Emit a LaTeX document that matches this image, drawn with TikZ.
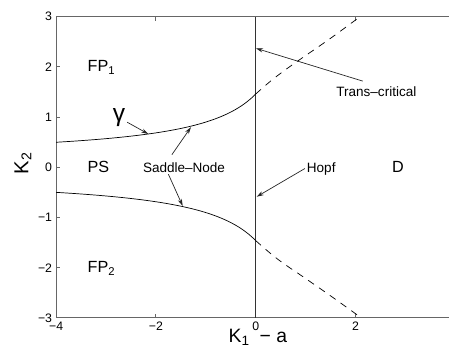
\documentclass[tikz,border=0pt]{standalone}
\usepackage{fontspec}
\setmainfont{Liberation Sans}
\usetikzlibrary{arrows.meta}
\tikzset{
  axisline/.style={draw=black!60, line width=0.5pt},
  branch/.style={draw=black, line width=0.4pt},
  tcbranch/.style={draw=black, line width=0.4pt, dash pattern=on 4pt off 3.5pt},
  regionlabel/.style={inner sep=0pt, font=\fontsize{9.2}{11}\selectfont},
  notelabel/.style={inner sep=1pt, font=\fontsize{7.7}{9}\selectfont},
  ticklabel/.style={inner sep=0pt, font=\fontsize{7}{8}\selectfont},
  pointer/.style={-{Stealth[length=4pt, width=2.4pt]}, line width=0.4pt, draw=black!85}
}

\begin{document}
\begin{tikzpicture}[x=0.998cm, y=1.004cm,
  declare function={snk(\t)=0.5*(0.252+1.111/(0.92-0.9*\t))+0.5*(0.123+1.337/(1-0.636*\t));}]
  \useasboundingbox (-5.124,-3.62) rectangle (3.874,3.333);

  % axes box and ticks
  \draw[axisline] (3.874,3) -- (-4,3) -- (-4,-3) -- (3.874,-3);
  \foreach \x/\lab in {-4/−4, -2/−2, 0/0, 2/2} {
    \draw[axisline] (\x,-3) -- ++(0,0.08);
    \draw[axisline] (\x,3) -- ++(0,-0.08);
    \node[ticklabel, anchor=north] (xt\x) at (\x,-3.08) {\lab};
  }
  \foreach \y/\lab in {-3/−3, -2/−2, -1/−1, 0/0, 1/1, 2/2, 3/3} {
    \draw[axisline] (-4,\y) -- ++(0.08,0);
    \node[ticklabel, anchor=east] (yt\y) at (-4.074,\y) {\lab};
  }
  \node[anchor=base west, inner sep=0pt, font=\fontsize{11}{13}\selectfont] (xlab) at (-0.549,-3.49) {K\textsubscript{1}\hspace{5.5pt}− a};
  \node[anchor=base, rotate=90, inner sep=0pt, font=\fontsize{11.5}{13}\selectfont] (ylab) at (-4.557,0.08) {K\textsubscript{2}};

  % Hopf line
  \draw[branch, draw=black!80] (0,-3) -- (0,3);

  % saddle-node branches
  \draw[branch] plot[domain=-4:0, samples=60] (\x, {snk(\x)});
  \draw[branch] plot[domain=-4:0, samples=60] (\x, {-snk(\x)});

  % trans-critical branches
  \draw[tcbranch] plot[smooth, tension=0.6] coordinates {(0,1.46) (0.29,1.71) (0.55,1.91) (0.89,2.15) (1.5,2.57) (2.09,3.0)};
  \draw[tcbranch] plot[smooth, tension=0.6] coordinates {(0,-1.46) (0.29,-1.71) (0.55,-1.91) (0.89,-2.14) (1.5,-2.56) (2.09,-2.98)};

  % regions
  \node[regionlabel, anchor=base west] (fp1) at (-3.375,1.90) {FP\textsubscript{1}};
  \node[regionlabel, anchor=base west] (ps) at (-3.375,-0.11) {PS};
  \node[regionlabel, anchor=base west] (fp2) at (-3.375,-2.10) {FP\textsubscript{2}};
  \node[regionlabel, anchor=base west] (dd) at (2.725,-0.10) {D};

  % annotations
  \node[inner sep=1pt, font=\fontsize{14}{16}\selectfont] (gam) at (-2.74,0.99) {γ};
  \node[notelabel, anchor=base west] (sn) at (-2.30,-0.094) {Saddle--Node};
  \node[notelabel, anchor=base west] (hopf) at (0.985,-0.094) {Hopf};
  \node[notelabel, anchor=base west] (tc) at (1.575,1.41) {Trans--critical};

  \coordinate (gamtip) at (-2.152,0.664);
  \coordinate (sntip1) at (-1.297,0.80);
  \coordinate (sntip2) at (-1.463,-0.77);
  \coordinate (tctip) at (0.006,2.37);
  \coordinate (hopftip) at (0.02,-0.586);

  \draw[pointer] (gam) -- (gamtip);
  \draw[pointer] ([xshift=6.2mm, yshift=1.1mm]sn.north west) -- (sntip1);
  \draw[pointer] ([xshift=5.5mm]sn.south west) -- (sntip2);
  \draw[pointer] ([xshift=5.7mm, yshift=0.7mm]tc.north west) -- (tctip);
  \draw[pointer] (hopf.west) -- (hopftip);
\end{tikzpicture}
\end{document}
